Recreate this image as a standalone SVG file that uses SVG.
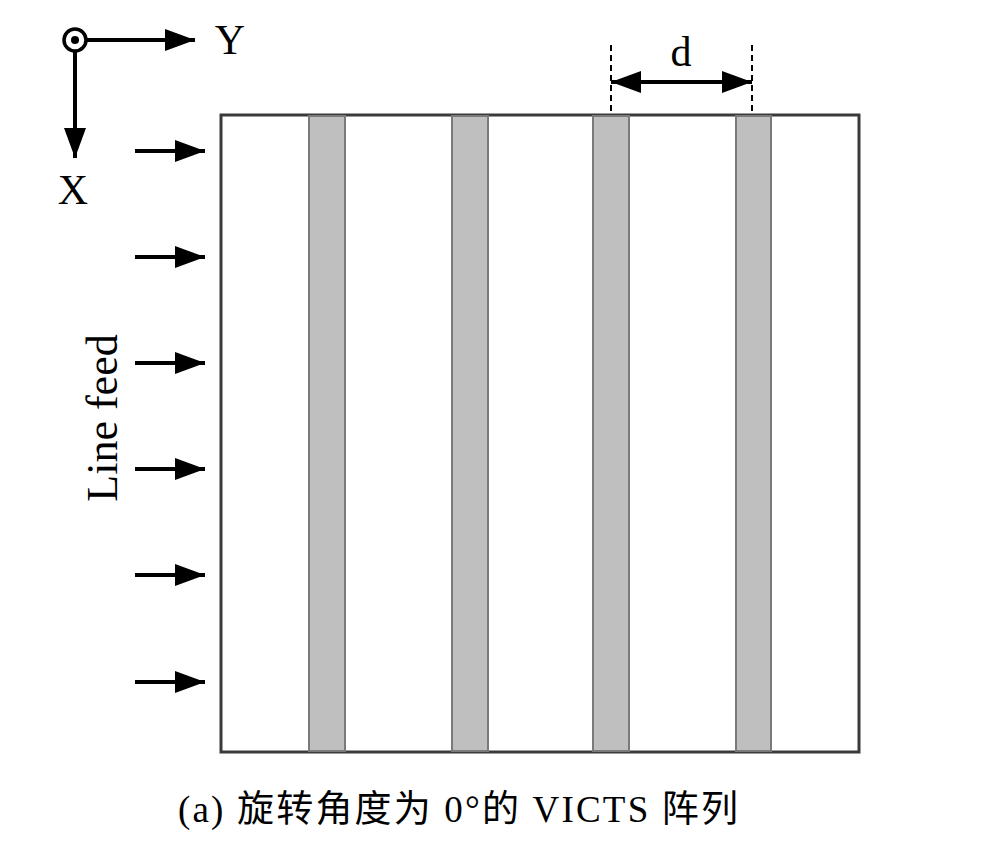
<svg xmlns="http://www.w3.org/2000/svg" width="992" height="851" viewBox="0 0 992 851">
<defs>
<style>
.t{font-family:"Liberation Serif","Noto Sans CJK SC",serif;fill:#000}
.ax{stroke:#000;stroke-width:4;fill:none}
.stripe{fill:#bfbfbf;stroke:#7a7a7a;stroke-width:2}
.dash{stroke:#000;stroke-width:2;stroke-dasharray:6 4}
</style>
<marker id="big" viewBox="0 0 30 22" refX="30" refY="11" markerWidth="30" markerHeight="22" orient="auto" markerUnits="userSpaceOnUse">
<path d="M0,0 L30,11 L0,22 Z" fill="#000"/>
</marker>
<marker id="bigs" viewBox="0 0 30 22" refX="30" refY="11" markerWidth="30" markerHeight="22" orient="auto-start-reverse" markerUnits="userSpaceOnUse">
<path d="M0,0 L30,11 L0,22 Z" fill="#000"/>
</marker>
</defs>
<rect width="992" height="851" fill="#fff"/>
<g id="array">
<rect x="221" y="115" width="638" height="637" fill="#fff" stroke="#3a3a3a" stroke-width="3"/>
<rect class="stripe" x="309" y="116" width="36" height="635"/>
<rect class="stripe" x="452" y="116" width="36" height="635"/>
<rect class="stripe" x="593" y="116" width="36" height="635"/>
<rect class="stripe" x="736" y="116" width="35" height="635"/>
</g>
<g id="axes">
<circle cx="75" cy="40" r="11" fill="#fff" stroke="#000" stroke-width="3.5"/>
<circle cx="75" cy="40" r="4" fill="#000"/>
<line class="ax" x1="86" y1="40" x2="195" y2="40" marker-end="url(#big)"/>
<line class="ax" x1="75" y1="51" x2="75" y2="158" marker-end="url(#big)"/>
<text class="t" x="230" y="54" font-size="42" text-anchor="middle">Y</text>
<text class="t" x="73" y="204" font-size="42" text-anchor="middle">X</text>
</g>
<g id="connectors">
<line class="ax" x1="135" y1="151" x2="205" y2="151" marker-end="url(#big)"/>
<line class="ax" x1="135" y1="257" x2="205" y2="257" marker-end="url(#big)"/>
<line class="ax" x1="135" y1="363" x2="205" y2="363" marker-end="url(#big)"/>
<line class="ax" x1="135" y1="469" x2="205" y2="469" marker-end="url(#big)"/>
<line class="ax" x1="135" y1="575" x2="205" y2="575" marker-end="url(#big)"/>
<line class="ax" x1="135" y1="682" x2="205" y2="682" marker-end="url(#big)"/>
</g>
<g id="linefeed">
<text class="t" font-size="44" text-anchor="middle" transform="translate(117,418) rotate(-90)">Line feed</text>
</g>
<g id="dimension">
<line class="dash" x1="611" y1="45" x2="611" y2="115"/>
<line class="dash" x1="752" y1="45" x2="752" y2="115"/>
<line class="ax" x1="611" y1="82" x2="752" y2="82" marker-start="url(#bigs)" marker-end="url(#big)"/>
<text class="t" x="681" y="66" font-size="42" text-anchor="middle">d</text>
</g>
<g id="caption">
<text class="t" x="178" y="822" font-size="37" textLength="560" lengthAdjust="spacing">(a) 旋转角度为 0°的 VICTS 阵列</text>
</g>
</svg>
